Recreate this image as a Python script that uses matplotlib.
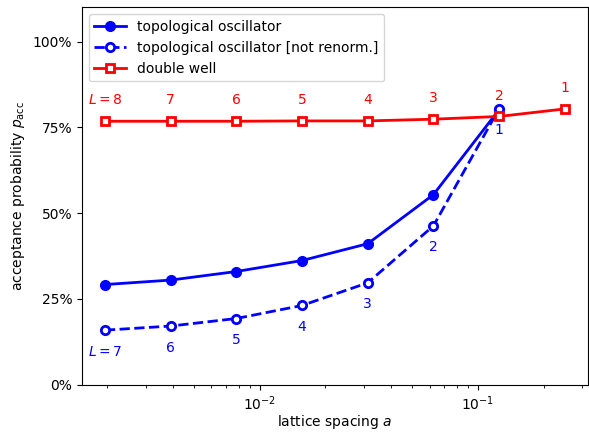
import numpy as np
import matplotlib
matplotlib.use("Agg")
import matplotlib.pyplot as plt
from matplotlib.ticker import PercentFormatter

# lattice sizes L and acceptance probabilities
L_topo = [7, 6, 5, 4, 3, 2, 1]
p_topo = [0.292, 0.305, 0.330, 0.362, 0.411, 0.554, 0.802]
p_topo_raw = [0.159, 0.171, 0.193, 0.231, 0.297, 0.463, 0.805]

L_dw = [8, 7, 6, 5, 4, 3, 2, 1]
p_dw = [0.768, 0.768, 0.768, 0.769, 0.769, 0.774, 0.782, 0.804]

# lattice spacings a = 2^-(L+2) for the oscillator, 2^-(L+1) for the double well
a_topo = [2.0 ** -(L + 2) for L in L_topo]
a_dw = [2.0 ** -(L + 1) for L in L_dw]

fig = plt.figure(figsize=(5.89, 4.33), dpi=100)
ax = fig.add_axes([0.139, 0.1115, 0.859, 0.8715])

ax.plot(a_topo, p_topo, "o-", color="blue", lw=2, ms=7, label="topological oscillator")
ax.plot(a_topo, p_topo_raw, "o--", color="blue", lw=2, ms=6, mew=2, mfc="white",
        label="topological oscillator [not renorm.]")
ax.plot(a_dw, p_dw, "s-", color="red", lw=2, ms=6, mew=2, mfc="white", label="double well")

# L annotations
for i, (a, p, L) in enumerate(zip(a_dw, p_dw, L_dw)):
    txt = "$L = %d$" % L if i == 0 else str(L)
    ax.annotate(txt, (a, p), xytext=(0, 10), textcoords="offset points",
                ha="center", va="bottom", color="red")
for i, (a, p, L) in enumerate(zip(a_topo, p_topo_raw, L_topo)):
    txt = "$L = %d$" % L if i == 0 else str(L)
    ax.annotate(txt, (a, p), xytext=(0, -10.5), textcoords="offset points",
                ha="center", va="top", color="blue")

ax.set_xscale("log")
ax.set_ylim(0, 1.1)
ax.set_yticks([0, 0.25, 0.5, 0.75, 1.0])
ax.yaxis.set_major_formatter(PercentFormatter(1.0, decimals=0))
ax.set_xlabel("lattice spacing $a$", labelpad=0)
ax.set_ylabel(r"acceptance probability $p_{\mathrm{acc}}$")
ax.legend(loc="upper left", handlelength=2.3)

fig.savefig("out.png", dpi=100)
